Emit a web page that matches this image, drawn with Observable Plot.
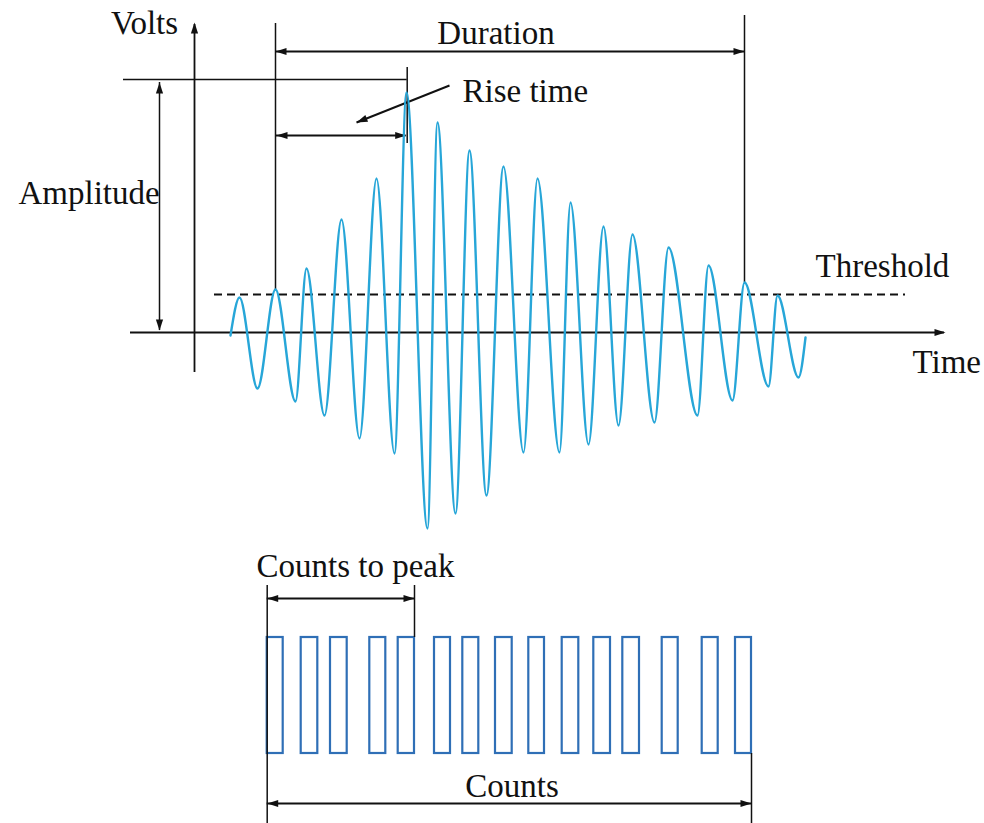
<!DOCTYPE html>
<html>
<head>
<meta charset="utf-8">
<script src="https://cdn.jsdelivr.net/npm/d3@7"></script>
<script src="https://cdn.jsdelivr.net/npm/@observablehq/plot@0.6"></script>
<style>
  html, body { margin: 0; padding: 0; background: #fff; }
  #chart { width: 984px; height: 823px; }
</style>
</head>
<body>
<div id="chart"></div>
<script>
// ---------- DATA (time in arbitrary units, amplitude in volts) ----------
const peakTime    = [4.5, 8.1, 11.2, 14.7, 18.2, 21.2, 24.3, 27.5, 30.9, 34.3, 37.6, 40.9, 43.8, 47.4, 51.4, 55.0, 58.3];
const peakVolts   = [0.35, 0.43, 0.64, 1.13, 1.54, 2.40, 2.10, 1.82, 1.66, 1.54, 1.30, 1.06, 0.98, 0.85, 0.67, 0.50, 0.37];
const troughTime  = [6.3, 10.1, 13.0, 16.5, 20.0, 23.3, 26.1, 29.2, 32.9, 36.5, 39.4, 42.4, 46.0, 50.3, 53.8, 57.4, 60.4];
const troughVolts = [-0.56, -0.69, -0.83, -1.06, -1.21, -1.96, -1.81, -1.63, -1.20, -1.20, -1.12, -0.93, -0.90, -0.83, -0.68, -0.54, -0.45];
const signalStart = {t: 3.6, v: -0.03};
const signalEnd   = {t: 61.1, v: -0.05};
const thresholdVolts = 0.38;
// count pulses (start / end time of each threshold crossing)
const countStart = [7.27, 10.67, 13.6, 17.53, 20.37, 24.0, 26.83, 30.1, 33.43, 36.77, 39.93, 42.83, 46.77, 50.77, 54.1];
const countEnd   = [8.87, 12.33, 15.27, 19.13, 22.0, 25.6, 28.43, 31.77, 35.0, 38.43, 41.6, 44.5, 48.37, 52.37, 55.7];
const labels = ["Volts", "Time", "Amplitude", "Duration", "Rise time", "Threshold", "Counts to peak", "Counts"];

// ---------- LAYOUT ----------
const W = 984, H = 823;
const xDomain = [-19.4, 79.0], yDomain = [-4.91, 3.32];
const pxPerX = W / (xDomain[1] - xDomain[0]);
const pxPerY = H / (yDomain[1] - yDomain[0]);
const pulseLow = -4.21, pulseHigh = -3.05;
const ink = "#111";
const waveColor = "#27a6d8";
const pulseColor = "#2f6fb6";
const fontSize = 33;

// waveform points
const wave = [{t: signalStart.t, v: signalStart.v}];
peakTime.forEach((t, i) => {
  wave.push({t, v: peakVolts[i]});
  wave.push({t: troughTime[i], v: troughVolts[i]});
});
wave.push({t: signalEnd.t, v: signalEnd.v});

const pulses = countStart.map((s, i) => ({x1: s, x2: countEnd[i], y1: pulseLow, y2: pulseHigh}));

const first = 1, peakIdx = peakVolts.indexOf(d3.max(peakVolts)), last = 15;
const tFirst = peakTime[first], tPeak = peakTime[peakIdx] + 0.07, tLast = peakTime[last];

// arrowhead symbol factory: tip at the anchor point, pointing in direction angle (deg, 0 = up, clockwise)
function head(angle, L = 11, hw = 3.6) {
  const a = angle * Math.PI / 180, c = Math.cos(a), s = Math.sin(a);
  const rot = (x, y) => [x * c - y * s, x * s + y * c];
  return {draw(ctx) {
    const p0 = rot(0, 0), p1 = rot(-hw, L), p2 = rot(hw, L);
    ctx.moveTo(p0[0], p0[1]); ctx.lineTo(p1[0], p1[1]); ctx.lineTo(p2[0], p2[1]); ctx.closePath();
  }};
}
const headAt = (x, y, angle) => Plot.dot([{x, y}], {x: "x", y: "y", symbol: head(angle), fill: ink, stroke: "none"});

// rise-time pointer
const ptrFrom = {x: 25.5, y: 2.47}, ptrTo = {x: 16.2, y: 2.10};
const ptrAngle = Math.atan2((ptrTo.x - ptrFrom.x) * pxPerX, (ptrTo.y - ptrFrom.y) * pxPerY) * 180 / Math.PI;
// convert: angle measured from up, clockwise, in screen coords
const dxs = (ptrTo.x - ptrFrom.x) * pxPerX, dys = -(ptrTo.y - ptrFrom.y) * pxPerY;
const ptrDeg = Math.atan2(dxs, -dys) * 180 / Math.PI;

const lw = 1.5;
const textOpts = {fill: ink, fontSize, lineAnchor: "bottom", fontFamily: "Liberation Serif, Times New Roman, serif"};

const chart = Plot.plot({
  width: W, height: H, margin: 0,
  x: {domain: xDomain, range: [0, W], axis: null},
  y: {domain: yDomain, range: [H, 0], axis: null},
  style: {background: "white"},
  marks: [
    // axes
    Plot.ruleX([0], {y1: -0.40, y2: 3.08, stroke: ink, strokeWidth: 1.8}),
    headAt(0, 3.10, 0),
    Plot.ruleY([0], {x1: -6.4, x2: 75.0, stroke: ink, strokeWidth: 1.8}),
    headAt(75.1, 0, 90),
    // threshold
    Plot.ruleY([thresholdVolts], {x1: 2.0, x2: 71.1, stroke: ink, strokeWidth: 2, strokeDasharray: "8,5"}),
    // amplitude
    Plot.ruleY([2.53], {x1: -7.1, x2: tPeak, stroke: ink, strokeWidth: lw}),
    Plot.ruleX([-3.5], {y1: 0.02, y2: 2.50, stroke: ink, strokeWidth: lw}),
    headAt(-3.5, 2.50, 0),
    headAt(-3.5, 0.02, 180),
    // duration
    Plot.ruleX([tFirst], {y1: peakVolts[first], y2: 3.09, stroke: ink, strokeWidth: lw}),
    Plot.ruleX([tLast], {y1: peakVolts[last], y2: 3.17, stroke: ink, strokeWidth: lw}),
    Plot.ruleY([2.81], {x1: tFirst, x2: tLast, stroke: ink, strokeWidth: 2}),
    headAt(tFirst, 2.81, -90),
    headAt(tLast, 2.81, 90),
    // rise time
    Plot.ruleX([tPeak], {y1: 1.89, y2: 2.65, stroke: ink, strokeWidth: lw}),
    Plot.ruleY([1.97], {x1: tFirst + 0.1, x2: tPeak - 0.1, stroke: ink, strokeWidth: 2}),
    headAt(tFirst + 0.1, 1.97, -90),
    headAt(tPeak - 0.1, 1.97, 90),
    Plot.link([{}], {x1: ptrFrom.x, y1: ptrFrom.y, x2: ptrTo.x, y2: ptrTo.y, stroke: ink, strokeWidth: 2}),
    headAt(ptrTo.x, ptrTo.y, ptrDeg),
    // waveform
    Plot.line(wave, {x: "t", y: "v", curve: "monotone-x", stroke: waveColor, strokeWidth: 2.4}),
    // count pulses
    Plot.rect(pulses, {x1: "x1", x2: "x2", y1: "y1", y2: "y2", fill: "none", stroke: pulseColor, strokeWidth: 2.2}),
    // counts to peak
    Plot.ruleX([countStart[0]], {y1: -4.91, y2: -2.53, stroke: ink, strokeWidth: lw}),
    Plot.ruleX([countEnd[4]], {y1: pulseHigh, y2: -2.53, stroke: ink, strokeWidth: lw}),
    Plot.ruleY([-2.66], {x1: countStart[0], x2: countEnd[4], stroke: ink, strokeWidth: 2}),
    headAt(countStart[0], -2.66, -90),
    headAt(countEnd[4], -2.66, 90),
    // counts
    Plot.ruleX([countEnd[14]], {y1: -4.91, y2: pulseLow, stroke: ink, strokeWidth: lw}),
    Plot.ruleY([-4.71], {x1: countStart[0], x2: countEnd[14], stroke: ink, strokeWidth: 2}),
    headAt(countStart[0], -4.71, -90),
    headAt(countEnd[14], -4.71, 90),
    // labels
    Plot.text([labels[0]], {x: -5.0, y: 2.99, text: d => d, textAnchor: "middle", ...textOpts}),
    Plot.text([labels[1]], {x: 71.8, y: -0.40, text: d => d, textAnchor: "start", ...textOpts}),
    Plot.text([labels[2]], {x: -17.6, y: 1.29, text: d => d, textAnchor: "start", ...textOpts}),
    Plot.text([labels[3]], {x: 30.15, y: 2.89, text: d => d, textAnchor: "middle", ...textOpts}),
    Plot.text([labels[4]], {x: 26.8, y: 2.31, text: d => d, textAnchor: "start", ...textOpts}),
    Plot.text([labels[5]], {x: 62.1, y: 0.553, text: d => d, textAnchor: "start", ...textOpts}),
    Plot.text([labels[6]], {x: 16.1, y: -2.44, text: d => d, textAnchor: "middle", ...textOpts}),
    Plot.text([labels[7]], {x: 31.75, y: -4.64, text: d => d, textAnchor: "middle", ...textOpts})
  ]
});
document.getElementById("chart").appendChild(chart);
</script>
</body>
</html>
